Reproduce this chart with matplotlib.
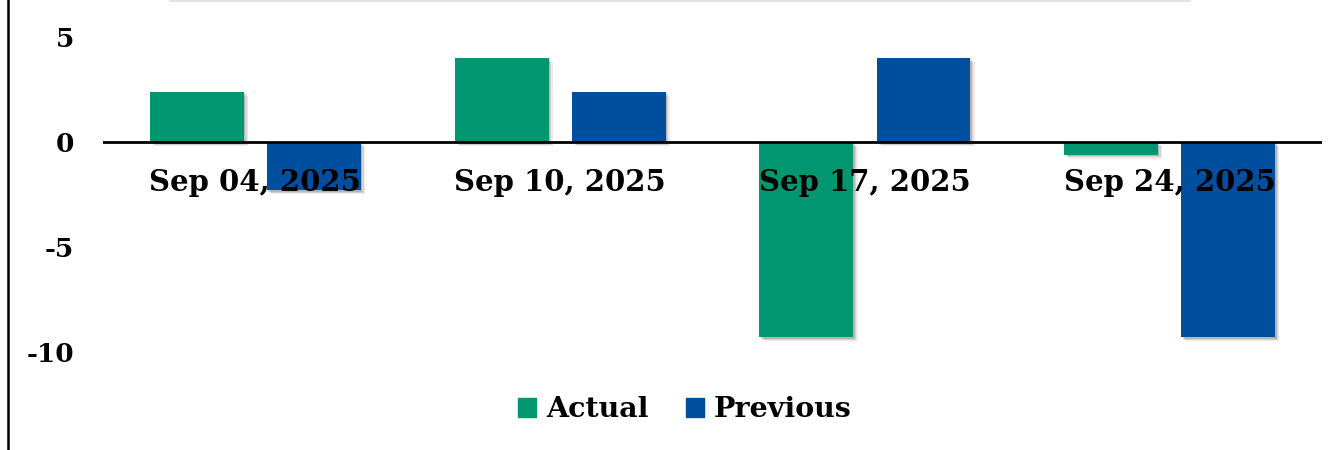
import matplotlib
matplotlib.use("Agg")
import matplotlib.pyplot as plt
import matplotlib.patheffects as pe
from matplotlib.lines import Line2D
from matplotlib.patches import Patch
import numpy as np

# Weekly readings
dates = ["Sep 04, 2025", "Sep 10, 2025", "Sep 17, 2025", "Sep 24, 2025"]
actual = [2.4, 4.0, -9.3, -0.6]
previous = [-2.3, 2.4, 4.0, -9.3]

y_ticks = [5, 0, -5, -10]

green = "#009670"
blue = "#004f9f"
font = "DejaVu Serif"

fig = plt.figure(figsize=(13.4, 4.5), dpi=100)
ax = fig.add_axes([0.0769, 0.1244, 0.9097, 0.84])

x = np.arange(len(dates))
width = 0.308
offset = 0.192

shadow = [
    pe.SimplePatchShadow(offset=(3, -3), shadow_rgbFace="black", alpha=0.08),
    pe.SimplePatchShadow(offset=(2, -2), shadow_rgbFace="black", alpha=0.10),
    pe.SimplePatchShadow(offset=(1, -1), shadow_rgbFace="black", alpha=0.14),
    pe.Normal(),
]

b1 = ax.bar(x - offset, actual, width, color=green, zorder=2)
b2 = ax.bar(x + offset, previous, width, color=blue, zorder=2)
for bar in list(b1) + list(b2):
    bar.set_path_effects(shadow)

ax.axhline(0, color="black", lw=2, zorder=3)

ax.set_xlim(-0.5, len(dates) - 0.5)
ax.set_ylim(-12, 6)

for s in ax.spines.values():
    s.set_visible(False)

ax.set_yticks(y_ticks)
ax.set_yticklabels([str(v) for v in y_ticks], fontsize=19, fontweight="bold",
                   family=font)
ax.tick_params(axis="y", length=0, pad=21)
ax.set_xticks([])

for xi, lab in zip(x, dates):
    ax.text(xi, -1.25, lab, ha="center", va="top", fontsize=21,
            fontweight="bold", family=font, zorder=5)

handles = [Patch(color=green, label="Actual"), Patch(color=blue, label="Previous")]
fig.legend(handles=handles, loc="center", bbox_to_anchor=(0.511, 0.089),
           ncol=2, frameon=False, handlelength=0.65, handleheight=0.65,
           handletextpad=0.35, columnspacing=1.3,
           prop={"family": font, "weight": "bold", "size": 20.5})

# frame line on the left and faint rule at the top
fig.add_artist(Line2D([0.0063, 0.0063], [0, 1], color="black", lw=1.8,
                      transform=fig.transFigure))
fig.add_artist(Line2D([0.127, 0.888], [0.998, 0.998], color="#e2e2e2", lw=1.5,
                      transform=fig.transFigure))

fig.savefig("out.png", dpi=100)
